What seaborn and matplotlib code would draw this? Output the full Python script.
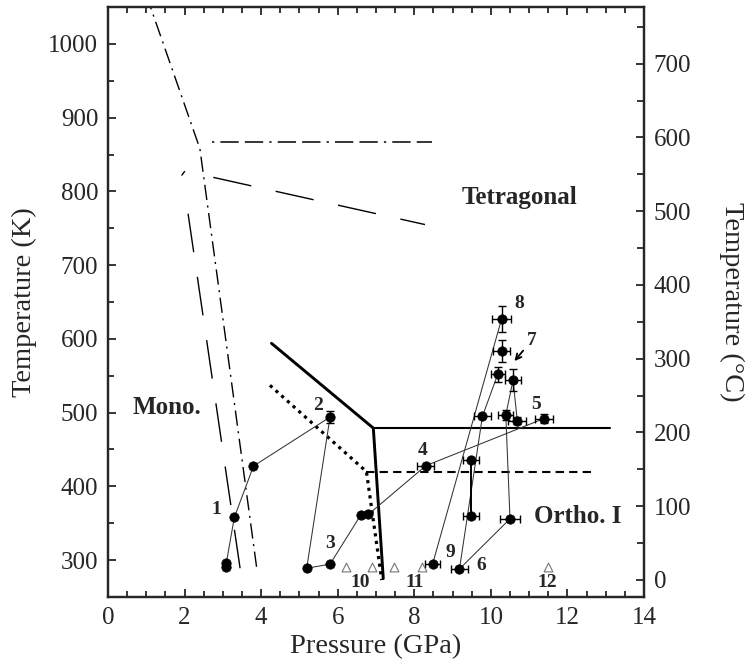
import numpy as np
import pandas as pd
import matplotlib
matplotlib.use("Agg")
import matplotlib.pyplot as plt
from matplotlib.ticker import MultipleLocator
import seaborn as sns

# ---- data ----
# measured points without error bars (P in GPa, T in K)
plain_p = [3.07, 3.07, 3.30, 3.80, 5.19, 5.80, 6.60, 6.80]
plain_t = [290, 296, 358, 427.5, 289, 294.5, 361, 362]

# measured points with error bars
err_p = [5.80, 8.30, 9.48, 9.48, 10.50, 8.48, 9.18, 9.78, 10.39, 10.69, 11.39, 10.58, 10.18, 10.28, 10.28]
err_t = [494, 428, 436, 360, 356, 295, 288, 495, 497, 489, 492, 544, 552, 584, 627]
err_dp = [0.0, 0.22, 0.22, 0.22, 0.25, 0.20, 0.22, 0.22, 0.20, 0.24, 0.23, 0.20, 0.18, 0.23, 0.25]
err_dt = [8, 0, 0, 0, 0, 0, 0, 0, 7, 5, 6, 15, 10, 15, 17]

# P-T paths
path_a_p = [3.07, 3.30, 3.80, 5.80, 5.19, 5.80, 6.60, 6.80, 8.30, 11.39]
path_a_t = [290, 358, 427.5, 494, 289, 294.5, 361, 362, 428, 492]
path_b_p = [8.48, 10.28]
path_b_t = [295, 627]
path_c_p = [9.18, 9.78, 10.18]
path_c_t = [288, 495, 552]
path_d_p = [9.18, 10.50, 10.39, 10.58, 10.69]
path_d_t = [288, 356, 497, 544, 489]
path_e_p = [9.48, 9.48]
path_e_t = [360, 436]

# room temperature runs (open triangles)
tri_p = [6.21, 6.89, 7.47, 8.19, 11.50]
tri_t = [291, 291, 291, 291, 291]

# run numbers
run_labels = ["1", "2", "3", "4", "5", "6", "7", "8", "9", "10", "11", "12"]
run_label_p = [2.84, 5.49, 5.81, 8.23, 11.19, 9.76, 11.06, 10.74, 8.93, 6.58, 8.00, 11.46]
run_label_t = [368, 510, 323, 449, 511, 293, 598, 648, 311, 269, 269, 269]

# phase boundaries
solid_p = [4.27, 6.93, 7.19]
solid_t = [594, 479, 275]
solid_h_p = [6.93, 13.11]
solid_h_t = [479, 479]
dotted_p = [4.23, 6.75, 7.15]
dotted_t = [537, 420, 273]
dashed_h_p = [6.75, 12.67]
dashed_h_t = [420, 420]
longdash_v_p = [3.45, 2.04]
longdash_v_t = [289, 788]
longdash_tip_p = [1.93, 2.00]
longdash_tip_t = [822, 827]
longdash_s_p = [2.75, 8.28]
longdash_s_t = [819, 755]
dashdot_p = [3.88, 2.40, 1.11]
dashdot_t = [291, 858, 1050]
dashdot2_p = [2.71, 8.45]
dashdot2_t = [867, 867]

# ---- style ----
sns.set_style("ticks")
plt.rcParams['font.family'] = ['Liberation Serif', 'DejaVu Serif']

fig = plt.figure(figsize=(7.52, 6.68), dpi=100)
ax = fig.add_axes([0.1436, 0.1063, 0.7128, 0.8832])

def draw_line(p, t, **kw):
    df = pd.DataFrame({'P': p, 'T': t})
    kw.setdefault('color', 'black')
    sns.lineplot(data=df, x='P', y='T', sort=False, estimator=None, ax=ax, **kw)

# phase boundaries
draw_line(solid_p, solid_t, linewidth=2.1)
draw_line(solid_h_p, solid_h_t, linewidth=1.5)
draw_line(dotted_p, dotted_t, linewidth=2.3, dashes=(1, 1.4))
draw_line(dashed_h_p, dashed_h_t, linewidth=1.5, dashes=(4, 2.5))
draw_line(longdash_v_p, longdash_v_t, linewidth=1.0, dashes=(28, 18))
draw_line(longdash_tip_p, longdash_tip_t, linewidth=1.0)
draw_line(longdash_s_p, longdash_s_t, linewidth=1.0, dashes=(28, 18))
draw_line(dashdot_p, dashdot_t, linewidth=1.0, dashes=(11, 4, 1.5, 4))
draw_line(dashdot2_p, dashdot2_t, linewidth=1.1, dashes=(1.5, 4, 12, 4, 12, 4))

# experimental paths
for pp, tt in [(path_a_p, path_a_t), (path_b_p, path_b_t), (path_c_p, path_c_t), (path_d_p, path_d_t)]:
    draw_line(pp, tt, linewidth=0.75, color='#333333')
draw_line(path_e_p, path_e_t, linewidth=1.4)

# error bars
ax.errorbar(err_p, err_t, xerr=err_dp, yerr=err_dt, fmt='none', ecolor='black',
            elinewidth=1.0, capsize=2.6, capthick=1.0, zorder=3)

pts = pd.DataFrame({'P': plain_p + err_p, 'T': plain_t + err_t})
sns.scatterplot(data=pts, x='P', y='T', ax=ax, color='black', s=46, edgecolor='black',
                linewidth=0.5, zorder=4)

tri = pd.DataFrame({'P': tri_p, 'T': tri_t})
sns.scatterplot(data=tri, x='P', y='T', ax=ax, marker='^', s=40, facecolor='white',
                edgecolor='#777777', linewidth=0.8, zorder=4)

for lab, lp, lt in zip(run_labels, run_label_p, run_label_t):
    ax.text(lp, lt, lab, fontsize=14, fontweight='bold', ha='center', va='center')

ax.annotate('', xy=(10.57, 567), xytext=(10.89, 587),
            arrowprops=dict(arrowstyle='->', color='black', lw=1.3))

ax.text(1.53, 507, 'Mono.', fontsize=18, fontweight='bold', ha='center', va='center')
ax.text(10.75, 792, 'Tetragonal', fontsize=18, fontweight='bold', ha='center', va='center')
ax.text(12.28, 359, 'Ortho. I', fontsize=18, fontweight='bold', ha='center', va='center')

# axes
ax.set_xlim(0, 14)
ax.set_ylim(250, 1050)
ax.xaxis.set_major_locator(MultipleLocator(2))
ax.xaxis.set_minor_locator(MultipleLocator(0.5))
ax.yaxis.set_minor_locator(MultipleLocator(50))
ax.set_yticks(np.arange(300, 1001, 100))
ax.set_xlabel('Pressure (GPa)', fontsize=20.5, labelpad=4)
ax.set_ylabel('Temperature (K)', fontsize=20.5, labelpad=8)
ax.tick_params(which='both', direction='in', top=True, labelsize=18, width=1.3, pad=7)
ax.tick_params(which='major', length=6)
ax.tick_params(which='minor', length=4)

ax2 = ax.twinx()
ax2.set_ylim(250 - 273.15, 1050 - 273.15)
ax2.set_yticks(np.arange(0, 701, 100))
ax2.yaxis.set_minor_locator(MultipleLocator(50))
ax2.tick_params(which='both', direction='in', labelsize=18, width=1.3, pad=7)
ax2.tick_params(which='major', length=6)
ax2.tick_params(which='minor', length=5)
ax2.set_ylabel('Temperature (\u00b0C)', fontsize=20.5, rotation=270, labelpad=38)

for a in (ax, ax2):
    for s in a.spines.values():
        s.set_linewidth(1.6)
        s.set_visible(True)

fig.savefig('out.png', dpi=100)
